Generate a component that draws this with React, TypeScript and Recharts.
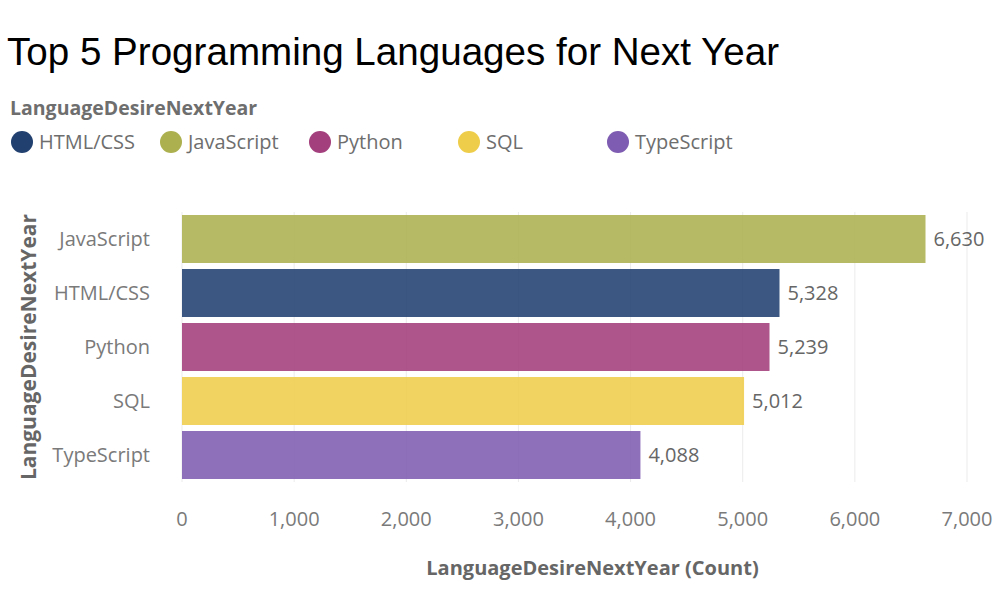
import React from "react";
import { BarChart, Bar, XAxis, YAxis, CartesianGrid, Cell, LabelList } from "recharts";

const categories = ["JavaScript", "HTML/CSS", "Python", "SQL", "TypeScript"];
const counts = [6630, 5328, 5239, 5012, 4088];
const legendOrder = ["HTML/CSS", "JavaScript", "Python", "SQL", "TypeScript"];
const colorOf: Record<string, string> = {
  "HTML/CSS": "#21406f",
  JavaScript: "#acb04e",
  Python: "#a33f7c",
  SQL: "#eecd4a",
  TypeScript: "#7e5cb1",
};
const xTicks = [0, 1000, 2000, 3000, 4000, 5000, 6000, 7000];

const data = categories.map((name, i) => ({ name, value: counts[i] }));

const FONT = "'Open Sans', 'Noto Sans', sans-serif";
const fmt = (v: number) => v.toLocaleString("en-US");

export default function App() {
  return (
    <div style={{ position: "absolute", left: 0, top: 0, width: 1006, height: 594, background: "#fff" }}>
      <div
        style={{
          position: "absolute",
          left: 7,
          top: 30,
          fontFamily: "'Liberation Sans', Arial, sans-serif",
          fontSize: 38.6,
          color: "#000",
          whiteSpace: "nowrap",
        }}
      >
        Top 5 Programming Languages for Next Year
      </div>
      <div
        style={{
          position: "absolute",
          left: 10,
          top: 94,
          fontFamily: FONT,
          fontWeight: 700,
          fontSize: 19.5,
          color: "#6e6e6e",
        }}
      >
        LanguageDesireNextYear
      </div>
      {legendOrder.map((name, i) => (
        <div
          key={name}
          style={{
            position: "absolute",
            left: 11 + i * 149,
            top: 128,
            display: "flex",
            alignItems: "center",
            fontFamily: FONT,
            fontSize: 20,
            color: "#6e6e6e",
          }}
        >
          <span
            style={{
              display: "inline-block",
              width: 22,
              height: 22,
              borderRadius: 11,
              background: colorOf[name],
              marginRight: 6,
            }}
          />
          {name}
        </div>
      ))}
      <div style={{ position: "absolute", left: 0, top: 0 }}>
        <BarChart
          width={1006}
          height={594}
          data={data}
          layout="vertical"
          margin={{ top: 212, right: 39, left: 0, bottom: 42 }}
          barCategoryGap={3}
        >
          <CartesianGrid horizontal={false} stroke="#ebebeb" />
          <XAxis
            type="number"
            domain={[0, 7000]}
            ticks={xTicks}
            tickFormatter={fmt}
            axisLine={false}
            tickLine={false}
            tickSize={0}
            tickMargin={30}
            height={70}
            interval={0}
            tick={{ fill: "#7a7a7a", fontSize: 20, fontFamily: FONT }}
            label={{
              value: "LanguageDesireNextYear (Count)",
              position: "insideBottom",
              offset: 0,
              dx: 18,
              dy: 23,
              fill: "#666",
              fontSize: 20,
              fontWeight: 700,
              fontFamily: FONT,
            }}
          />
          <YAxis
            type="category"
            dataKey="name"
            width={182}
            axisLine={false}
            tickLine={false}
            tickSize={0}
            tickMargin={32}
            interval={0}
            tick={{ fill: "#7a7a7a", fontSize: 20, fontFamily: FONT }}
            label={{
              content: (props: any) => {
                const vb = props.viewBox || {};
                const cx = (vb.x || 0) + 28;
                const cy = (vb.y || 0) + (vb.height || 0) / 2;
                return (
                  <text
                    x={cx}
                    y={cy}
                    transform={`rotate(-90 ${cx} ${cy})`}
                    textAnchor="middle"
                    dominantBaseline="central"
                    fill="#666"
                    fontSize={21}
                    fontWeight={700}
                    fontFamily={FONT}
                  >
                    LanguageDesireNextYear
                  </text>
                );
              },
            }}
          />
          <Bar dataKey="value" isAnimationActive={false} fillOpacity={0.88}>
            {data.map((d) => (
              <Cell key={d.name} fill={colorOf[d.name]} />
            ))}
            <LabelList
              dataKey="value"
              position="right"
              offset={8}
              formatter={(v: any) => fmt(Number(v))}
              style={{ fill: "#666", fontSize: 20, fontFamily: FONT }}
            />
          </Bar>
        </BarChart>
      </div>
    </div>
  );
}
